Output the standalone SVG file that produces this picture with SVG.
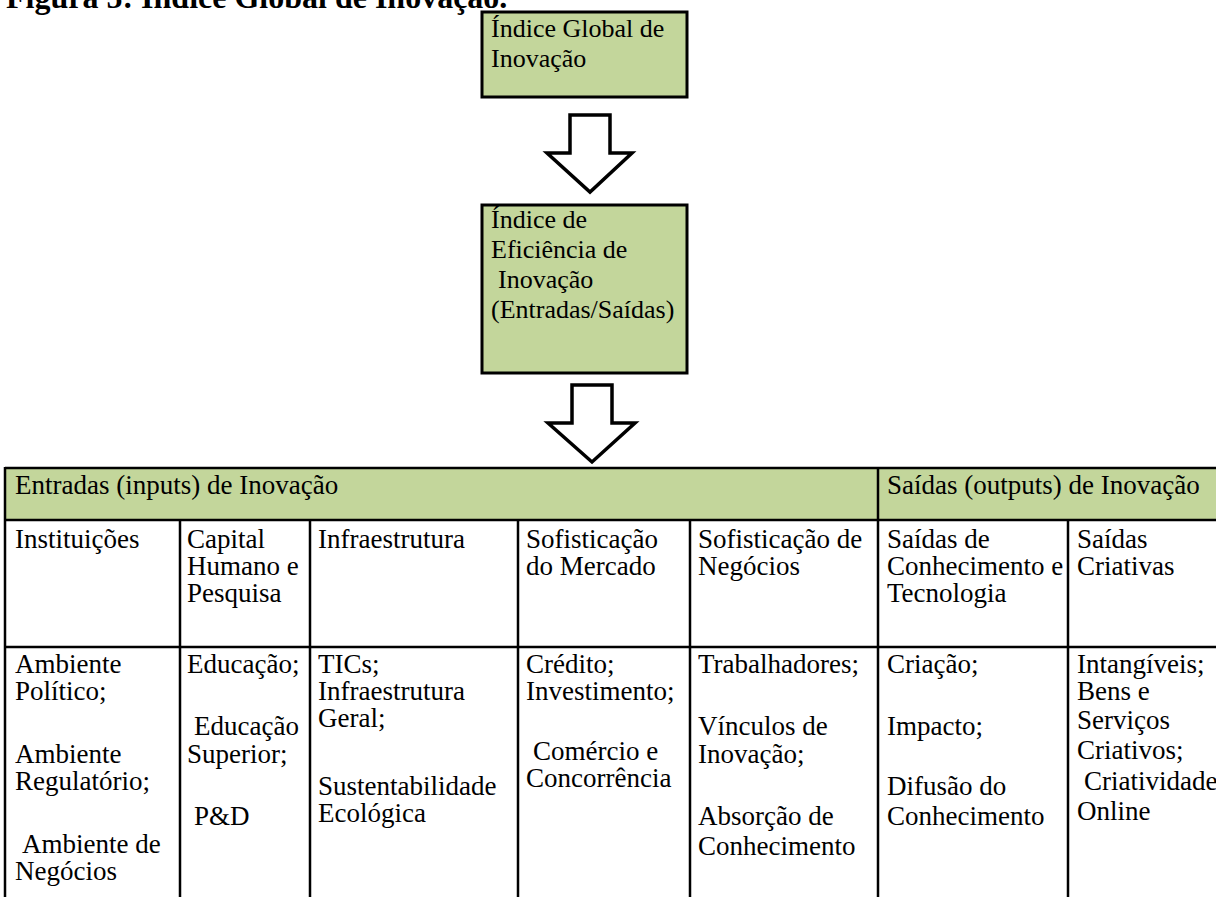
<svg xmlns="http://www.w3.org/2000/svg" width="1216" height="897" viewBox="0 0 1216 897">
<style>
.t{font-family:"Liberation Serif","Times New Roman",serif;font-size:27px;fill:#000}
.b{font-family:"Liberation Serif","Times New Roman",serif;font-size:26px;fill:#000}
.title{font-family:"Liberation Serif","Times New Roman",serif;font-size:32px;font-weight:bold;fill:#000}
.box{fill:#C3D69B;stroke:#000;stroke-width:3}
.arrow{fill:#fff;stroke:#000;stroke-width:3.5;stroke-linejoin:miter}
.grid{stroke:#000;stroke-width:2.5;fill:none}
</style>
<rect width="1216" height="897" fill="#fff"/>
<text class="title" x="6" y="8">Figura 5: Índice Global de Inovação.</text>

<g id="node-global">
<rect class="box" x="482" y="12" width="205" height="85"/>
<text class="b" x="491" y="37">Índice Global de</text>
<text class="b" x="491" y="67">Inovação</text>
</g>

<g id="node-eficiencia">
<rect class="box" x="482" y="205" width="205" height="168"/>
<text class="b" x="491" y="228">Índice de</text>
<text class="b" x="491" y="258">Eficiência de</text>
<text class="b" x="498" y="288">Inovação</text>
<text class="b" x="491" y="318">(Entradas/Saídas)</text>
</g>

<g id="connectors">
<polygon class="arrow" points="570,115 610,115 610,153 632,153 590,192 547,153 570,153"/>
<polygon class="arrow" points="572,385 612,385 612,423 635,423 592,462 548,423 572,423"/>
</g>

<g id="table">
<rect x="5" y="468" width="1211" height="52" fill="#C3D69B"/>
<g class="grid">
<line x1="5" y1="468" x2="1216" y2="468"/>
<line x1="5" y1="520" x2="1216" y2="520"/>
<line x1="5" y1="647" x2="1216" y2="647"/>
<line x1="5" y1="467" x2="5" y2="897"/>
<line x1="878" y1="467" x2="878" y2="897"/>
<line x1="180" y1="520" x2="180" y2="897"/>
<line x1="310" y1="520" x2="310" y2="897"/>
<line x1="518" y1="520" x2="518" y2="897"/>
<line x1="690" y1="520" x2="690" y2="897"/>
<line x1="1068" y1="520" x2="1068" y2="897"/>
</g>
<g id="header-entradas">
<text class="t" x="15" y="494">Entradas (inputs) de Inovação</text>
</g>
<g id="header-saidas">
<text class="t" x="887" y="494">Saídas (outputs) de Inovação</text>
</g>
<g id="col-instituicoes">
<text class="t" x="15" y="548">Instituições</text>
<text class="t" x="15" y="673">Ambiente</text>
<text class="t" x="15" y="700">Político;</text>
<text class="t" x="15" y="763">Ambiente</text>
<text class="t" x="15" y="790">Regulatório;</text>
<text class="t" x="22" y="853">Ambiente de</text>
<text class="t" x="15" y="880">Negócios</text>
</g>
<g id="col-capital">
<text class="t" x="187" y="548">Capital</text>
<text class="t" x="187" y="575">Humano e</text>
<text class="t" x="187" y="602">Pesquisa</text>
<text class="t" x="187" y="673">Educação;</text>
<text class="t" x="194" y="735">Educação</text>
<text class="t" x="187" y="763">Superior;</text>
<text class="t" x="194" y="825">P&amp;D</text>
</g>
<g id="col-infra">
<text class="t" x="318" y="548">Infraestrutura</text>
<text class="t" x="318" y="673">TICs;</text>
<text class="t" x="318" y="700">Infraestrutura</text>
<text class="t" x="318" y="727">Geral;</text>
<text class="t" x="318" y="795">Sustentabilidade</text>
<text class="t" x="318" y="822">Ecológica</text>
</g>
<g id="col-mercado">
<text class="t" x="526" y="548">Sofisticação</text>
<text class="t" x="526" y="575">do Mercado</text>
<text class="t" x="526" y="673">Crédito;</text>
<text class="t" x="526" y="700">Investimento;</text>
<text class="t" x="533" y="760">Comércio e</text>
<text class="t" x="526" y="787">Concorrência</text>
</g>
<g id="col-negocios">
<text class="t" x="698" y="548">Sofisticação de</text>
<text class="t" x="698" y="575">Negócios</text>
<text class="t" x="698" y="673">Trabalhadores;</text>
<text class="t" x="698" y="735">Vínculos de</text>
<text class="t" x="698" y="763">Inovação;</text>
<text class="t" x="698" y="825">Absorção de</text>
<text class="t" x="698" y="855">Conhecimento</text>
</g>
<g id="col-conhecimento">
<text class="t" x="887" y="548">Saídas de</text>
<text class="t" x="887" y="575">Conhecimento e</text>
<text class="t" x="887" y="602">Tecnologia</text>
<text class="t" x="887" y="673">Criação;</text>
<text class="t" x="887" y="735">Impacto;</text>
<text class="t" x="887" y="795">Difusão do</text>
<text class="t" x="887" y="825">Conhecimento</text>
</g>
<g id="col-criativas">
<text class="t" x="1077" y="548">Saídas</text>
<text class="t" x="1077" y="575">Criativas</text>
<text class="t" x="1077" y="673">Intangíveis;</text>
<text class="t" x="1077" y="700">Bens e</text>
<text class="t" x="1077" y="729">Serviços</text>
<text class="t" x="1077" y="759">Criativos;</text>
<text class="t" x="1084" y="790">Criatividade</text>
<text class="t" x="1077" y="820">Online</text>
</g>
</g>
</svg>
